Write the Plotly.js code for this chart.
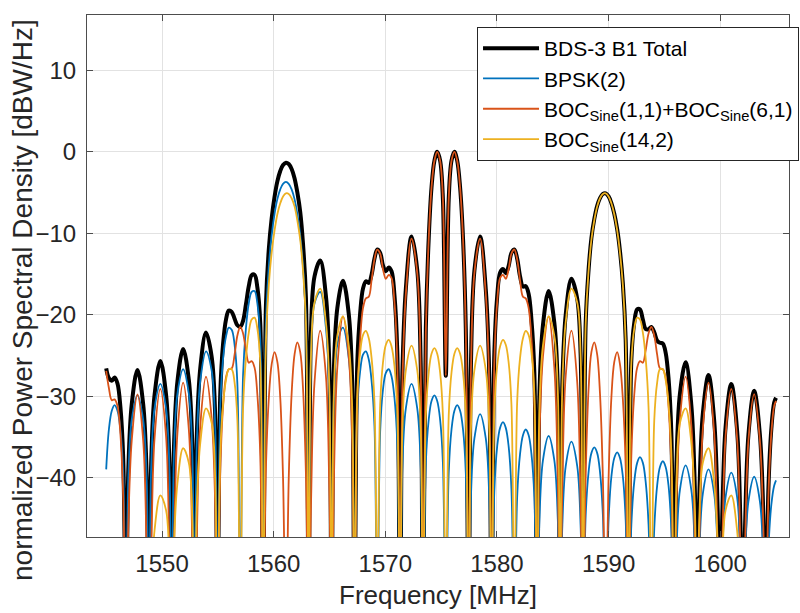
<!DOCTYPE html>
<html>
<head>
<meta charset="utf-8">
<script src="https://cdn.plot.ly/plotly-3.0.1.min.js"></script>
<style>html,body{margin:0;padding:0;background:#fff;}#chart{width:800px;height:613px;}</style>
</head>
<body>
<div id="chart"></div>
<script>
// Frequency samples [MHz]
const freq = [
1545.00,1545.24,1545.50,1545.75,1546.01,1546.27,1546.52,1546.78,
1546.98,1547.29,1547.80,1548.31,1548.62,1548.82,
1549.03,1549.33,1549.85,1550.36,1550.66,1550.87,
1551.07,1551.38,1551.89,1552.40,1552.71,1552.91,
1553.12,1553.43,1553.94,1554.45,1554.76,1554.96,
1555.22,1555.47,1555.73,1555.98,1556.24,1556.50,1556.75,1557.01,
1557.26,1557.52,1557.77,1558.03,1558.29,1558.54,1558.80,1559.05,
1559.31,1559.56,1559.82,1560.08,1560.33,1560.59,1560.84,1561.10,
1561.35,1561.61,1561.87,1562.12,1562.38,1562.63,1562.89,1563.14,
1563.35,1563.66,1564.17,1564.68,1564.98,1565.19,
1565.40,1565.70,1566.21,1566.73,1567.03,1567.24,
1567.49,1567.75,1568.00,1568.26,1568.52,1568.77,1569.03,1569.28,
1569.54,1569.79,1570.05,1570.31,1570.56,1570.82,1571.07,1571.33,
1571.53,1571.84,1572.35,1572.86,1573.17,1573.37,
1573.63,1573.89,1574.14,1574.40,1574.65,1574.91,1575.16,1575.42,
1575.68,1575.93,1576.19,1576.44,1576.70,1576.96,1577.21,1577.47,
1577.67,1577.98,1578.49,1579.00,1579.31,1579.51,
1579.77,1580.02,1580.28,1580.54,1580.79,1581.05,1581.30,1581.56,
1581.81,1582.07,1582.33,1582.58,1582.84,1583.09,1583.35,1583.60,
1583.81,1584.12,1584.63,1585.14,1585.45,1585.65,
1585.86,1586.16,1586.67,1587.19,1587.49,1587.70,
1587.95,1588.21,1588.46,1588.72,1588.98,1589.23,1589.49,1589.74,
1590.00,1590.25,1590.51,1590.77,1591.02,1591.28,1591.53,1591.79,
1592.04,1592.30,1592.56,1592.81,1593.07,1593.32,1593.58,1593.83,
1594.09,1594.35,1594.60,1594.86,1595.11,1595.37,1595.62,1595.88,
1596.09,1596.39,1596.90,1597.41,1597.72,1597.93,
1598.13,1598.44,1598.95,1599.46,1599.77,1599.97,
1600.18,1600.48,1600.99,1601.51,1601.81,1602.02,
1602.22,1602.53,1603.04,1603.55,1603.86,1604.06,
1604.32,1604.58,1604.83,1605.00
];

// BDS-3 B1 Total [dBW/Hz]
const total = [
-26.6,-27.8,-28.1,-27.7,-28.45,-31.3,-37.5,-60,
-39.1,-30.95,-26.8,-30.95,-39.5,-60,
-38.3,-29.9,-25.7,-29.8,-38.1,-60,
-36.3,-28.2,-24.2,-28.0,-35.9,-60,
-34.6,-26.5,-22.2,-25.2,-32.3,-60,
-29.6,-23.55,-20.6,-19.5,-19.65,-20.5,-21.3,-21.5,
-20.75,-18.7,-16.5,-15.15,-15.1,-16.65,-21.1,-60,
-18.75,-12.05,-8.18,-5.52,-3.63,-2.36,-1.62,-1.33,
-1.5,-2.11,-3.24,-4.99,-7.4,-11.35,-17.94,-60,
-21.7,-15.3,-13.35,-17.7,-25.9,-60,
-26.55,-19.2,-15.84,-19.96,-28.1,-60,
-26.0,-19.75,-16.8,-15.9,-16.1,-15.1,-13.1,-12.0,
-12.4,-13.95,-14.67,-14.2,-14.67,-17.6,-24.4,-60,
-27.2,-16.8,-10.4,-14.5,-26.0,-60,
-21.7,-10.6,-4.37,-1.08,0,-1.08,-5.8,-27.5,
-5.8,-1.08,0,-1.08,-4.37,-10.6,-21.7,-60,
-26.2,-14.6,-10.4,-16.9,-27.3,-60,
-24.6,-17.8,-14.85,-14.4,-14.9,-14.0,-12.4,-12.0,
-13.1,-15.3,-16.55,-16.5,-17.45,-20.6,-27.15,-60,
-29.6,-21.3,-17.1,-21.0,-28.9,-60,
-28.3,-20.0,-15.6,-18.05,-24.7,-60,
-21.0,-14.45,-10.6,-8.25,-6.63,-5.68,-5.17,-5.1,
-5.48,-6.3,-7.6,-9.5,-12.2,-16.2,-23.05,-60,
-25.55,-21.0,-19.35,-19.35,-20.6,-21.75,-21.8,-21.5,
-22.15,-23.2,-23.45,-23.55,-24.65,-27.8,-34.5,-60,
-37.8,-29.7,-25.85,-31.07,-41.0,-60,
-42.1,-32.2,-27.4,-33.0,-44.0,-60,
-45.0,-33.8,-28.5,-34.2,-45.6,-60,
-46.3,-34.7,-29.35,-34.7,-44.5,-60,
-41.2,-34.0,-30.8,-30.2
];

// BPSK(2)
const bpsk = [
-39.0,-34.1,-31.8,-31.1,-31.8,-34.1,-39.4,-60,
-40.1,-32.9,-29.9,-32.9,-40.1,-60,
-38.7,-31.5,-28.5,-31.5,-38.7,-60,
-36.9,-29.7,-26.7,-29.7,-36.9,-60,
-35.6,-28.1,-24.5,-26.9,-33.6,-60,
-31.1,-25.4,-22.7,-21.6,-21.85,-23.7,-28.5,-60,
-27.4,-21.6,-18.6,-17.2,-17.1,-18.6,-23.0,-60,
-20.8,-14.15,-10.25,-7.62,-5.81,-4.61,-3.93,-3.7,
-3.93,-4.61,-5.81,-7.62,-10.25,-14.15,-20.8,-60,
-24.7,-18.6,-17.2,-21.6,-29.5,-60,
-30.3,-23.7,-21.6,-25.4,-33.1,-60,
-31.8,-26.9,-24.9,-24.5,-25.5,-28.1,-33.7,-60,
-34.3,-29.2,-27.15,-26.7,-27.6,-30.2,-35.7,-60,
-38.7,-31.5,-28.5,-31.5,-38.7,-60,
-38.2,-32.9,-30.6,-29.9,-30.6,-32.9,-38.2,-60,
-39.4,-34.1,-31.8,-31.1,-31.8,-34.1,-39.4,-60,
-42.4,-35.2,-32.2,-35.2,-42.4,-60,
-41.5,-36.2,-33.9,-33.2,-33.9,-36.2,-41.5,-60,
-42.4,-37.1,-34.8,-34.1,-34.8,-37.1,-42.4,-60,
-45.1,-37.9,-34.9,-37.9,-45.1,-60,
-45.8,-38.6,-35.6,-38.6,-45.8,-60,
-44.6,-39.3,-37.0,-36.3,-37.0,-39.3,-44.6,-60,
-45.2,-39.9,-37.6,-36.9,-37.6,-39.9,-45.2,-60,
-45.8,-40.5,-38.2,-37.5,-38.2,-40.5,-45.8,-60,
-46.3,-41.0,-38.7,-38.0,-38.7,-41.0,-46.3,-60,
-48.7,-41.5,-38.5,-41.5,-48.7,-60,
-49.2,-42.0,-39.0,-42.0,-49.2,-60,
-49.6,-42.4,-39.4,-42.4,-49.6,-60,
-50.1,-42.9,-39.9,-42.9,-50.1,-60,
-48.6,-43.3,-41.0,-40.35
];

// BOC_Sine(1,1)+BOC_Sine(6,1)
const qmboc = [
-26.9,-29.0,-30.5,-30.4,-31.2,-34.6,-42.1,-60,
-45.9,-35.4,-29.8,-35.4,-48.7,-60,
-49.0,-35.2,-29.1,-34.9,-49.2,-60,
-49.0,-34.55,-28.35,-34.1,-47.7,-60,
-47.1,-33.6,-27.6,-32.8,-43.1,-60,
-39.0,-31.25,-27.7,-26.7,-26.6,-24.9,-22.55,-21.5,
-22.3,-24.4,-25.9,-25.7,-26.5,-29.8,-37.3,-60,
-38.6,-30.4,-26.1,-24.6,-25.8,-30.2,-40.05,-60,
-40.1,-29.7,-24.9,-23.4,-24.6,-29.1,-39.55,-60,
-42.95,-28.3,-21.95,-27.5,-40.9,-60,
-40.1,-26.5,-20.2,-25.2,-35.3,-60,
-30.9,-22.95,-19.2,-18.0,-17.8,-15.8,-13.2,-12.0,
-12.5,-14.4,-15.6,-15.1,-15.5,-18.5,-25.7,-60,
-28.6,-17.46,-10.66,-14.9,-27.1,-60,
-22.2,-10.7,-4.4,-1.1,0,-1.1,-5.8,-27.5,
-5.8,-1.1,0,-1.1,-4.4,-10.7,-22.2,-60,
-27.1,-14.9,-10.66,-17.46,-28.6,-60,
-25.7,-18.5,-15.5,-15.1,-15.6,-14.4,-12.5,-12.0,
-13.2,-15.8,-17.8,-18.0,-19.2,-22.95,-30.9,-60,
-35.3,-25.2,-20.2,-26.5,-40.1,-60,
-40.9,-27.5,-21.95,-28.3,-42.95,-60,
-39.55,-29.1,-24.6,-23.4,-24.9,-29.7,-40.1,-60,
-40.05,-30.2,-25.8,-24.6,-26.1,-30.4,-38.6,-60,
-37.3,-29.8,-26.5,-25.7,-25.9,-24.4,-22.3,-21.5,
-22.55,-24.9,-26.6,-26.7,-27.7,-31.25,-39.0,-60,
-43.1,-32.8,-27.6,-33.6,-47.1,-60,
-47.7,-34.1,-28.35,-34.55,-49.0,-60,
-49.2,-34.9,-29.1,-35.2,-49.0,-60,
-48.7,-35.4,-29.75,-35.4,-45.9,-60,
-42.1,-34.55,-31.2,-30.6
];

// BOC_Sine(14,2)
const boc14 = [
-60,-60,-60,-60,-60,-60,-60,-60,
-60,-60,-60,-60,-60,-60,
-54.2,-46.5,-42.2,-44.0,-50.6,-60,
-48.4,-40.7,-36.4,-38.2,-44.8,-60,
-43.3,-35.7,-31.5,-33.3,-39.9,-60,
-36.9,-31.0,-28.0,-26.7,-26.7,-28.35,-33.0,-60,
-31.45,-25.3,-22.2,-20.6,-20.36,-21.7,-25.9,-60,
-23.2,-16.4,-12.4,-9.66,-7.66,-6.32,-5.48,-5.1,
-5.17,-5.7,-6.7,-8.4,-10.8,-14.6,-21.1,-60,
-24.8,-18.5,-16.8,-20.9,-28.6,-60,
-29.3,-22.6,-20.2,-23.8,-31.2,-60,
-29.8,-24.6,-22.5,-22.0,-22.9,-25.3,-30.8,-60,
-31.1,-25.9,-23.7,-23.1,-23.9,-26.3,-31.75,-60,
-34.0,-26.8,-23.8,-26.8,-34.0,-60,
-32.4,-27.1,-24.8,-24.1,-24.8,-27.1,-32.4,-60,
-32.4,-27.1,-24.8,-24.1,-24.8,-27.1,-32.4,-60,
-34.0,-26.8,-23.8,-26.8,-34.0,-60,
-31.75,-26.3,-23.9,-23.1,-23.7,-25.9,-31.1,-60,
-30.8,-25.3,-22.9,-22.0,-22.5,-24.6,-29.8,-60,
-31.2,-23.8,-20.2,-22.6,-29.3,-60,
-28.6,-20.9,-16.8,-18.5,-24.8,-60,
-21.1,-14.6,-10.8,-8.4,-6.7,-5.7,-5.17,-5.1,
-5.48,-6.32,-7.66,-9.66,-12.4,-16.4,-23.2,-60,
-25.9,-21.7,-20.36,-20.6,-22.2,-25.3,-31.45,-60,
-33.0,-28.35,-26.7,-26.7,-28.0,-31.0,-36.9,-60,
-39.9,-33.3,-31.5,-35.7,-43.3,-60,
-44.8,-38.2,-36.4,-40.7,-48.4,-60,
-50.6,-44.0,-42.2,-46.5,-54.2,-60,
-60,-60,-60,-60,-60,-60,
-60,-60,-60,-60
];

const seriesNames = [
  'BDS-3 B1 Total',
  'BPSK(2)',
  'BOC<sub>Sine</sub>(1,1)+BOC<sub>Sine</sub>(6,1)',
  'BOC<sub>Sine</sub>(14,2)'
];
const xTicks = [1550, 1560, 1570, 1580, 1590, 1600];
const yTicks = [-40, -30, -20, -10, 0, 10];
const yTickText = ['\u221240', '\u221230', '\u221220', '\u221210', '0', '10'];
const xTitle = 'Frequency [MHz]';
const yTitle = 'normalized Power Spectral Density [dBW/Hz]';

const FONT = 'Liberation Sans, Arial, Helvetica, sans-serif';
const AX = '#262626';

const traces = [
  {x: freq, y: total, name: seriesNames[0], line: {color: '#000000', width: 4}},
  {x: freq, y: bpsk,  name: seriesNames[1], line: {color: '#0072BD', width: 1.8}},
  {x: freq, y: qmboc, name: seriesNames[2], line: {color: '#D95319', width: 1.8}},
  {x: freq, y: boc14, name: seriesNames[3], line: {color: '#EDB120', width: 1.8}}
].map(t => {
  t.line.shape = 'spline';
  t.line.smoothing = 1;
  return Object.assign({type: 'scatter', mode: 'lines', hoverinfo: 'skip'}, t);
});

const axisCommon = {
  showline: true, linecolor: '#4d4d4d', linewidth: 1, mirror: 'ticks',
  ticks: 'inside', ticklen: 6, tickcolor: '#4d4d4d', tickwidth: 1,
  showgrid: true, gridcolor: '#e2e2e2', gridwidth: 1, zeroline: false,
  tickfont: {family: FONT, size: 24, color: AX},
  ticklabelstandoff: 5
};

const layout = {
  width: 800, height: 613,
  margin: {l: 87, r: 11, t: 15, b: 76, autoexpand: false},
  paper_bgcolor: '#ffffff', plot_bgcolor: '#ffffff',
  showlegend: true,
  xaxis: Object.assign({}, axisCommon, {
    range: [1543.28, 1606.16], tickmode: 'array', tickvals: xTicks,
    title: {text: xTitle, font: {family: FONT, size: 26, color: AX}, standoff: 10}
  }),
  yaxis: Object.assign({}, axisCommon, {
    range: [-47.3, 16.8], tickmode: 'array', tickvals: yTicks, ticktext: yTickText
  }),
  annotations: [{
    text: yTitle, textangle: -90, showarrow: false,
    xref: 'paper', yref: 'paper', x: -0.0926, y: 0.454,
    xanchor: 'center', yanchor: 'middle',
    font: {family: FONT, size: 28, color: AX}
  }],
  legend: {
    x: 0.5556, y: 0.977, xanchor: 'left', yanchor: 'top',
    bgcolor: '#ffffff', bordercolor: '#262626', borderwidth: 1,
    font: {family: FONT, size: 21, color: '#000'},
    itemwidth: 56, tracegroupgap: 0
  }
};

Plotly.newPlot('chart', traces, layout, {staticPlot: true, displayModeBar: false});
</script>
</body>
</html>
